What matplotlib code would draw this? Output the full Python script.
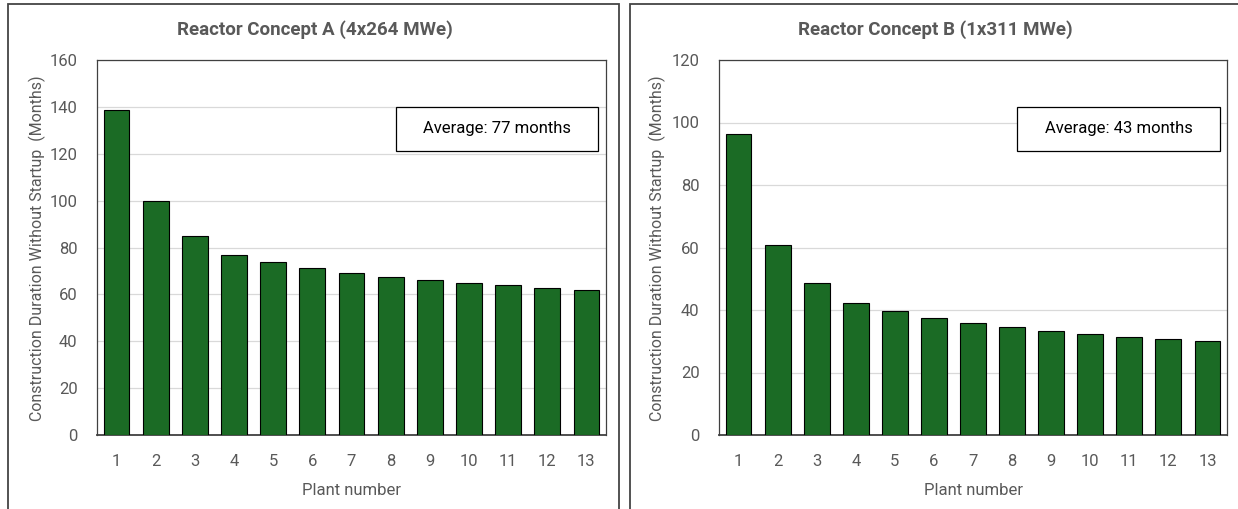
import matplotlib.pyplot as plt
from matplotlib.patches import Rectangle

plt.rcParams['font.family'] = ['Roboto', 'DejaVu Sans']

plants = list(range(1, 14))
concept_a = [138.7, 100.0, 85.1, 76.8, 74.0, 71.4, 69.3, 67.6, 66.1, 65.0, 63.9, 62.9, 61.9]
concept_b = [96.3, 60.8, 48.5, 42.2, 39.6, 37.6, 35.8, 34.5, 33.4, 32.3, 31.3, 30.8, 30.0]
titles = ["Reactor Concept A (4x264 MWe)", "Reactor Concept B (1x311 MWe)"]
averages = ["Average: 77 months", "Average: 43 months"]
y_max = [160, 120]

W, H = 1238, 509
fig = plt.figure(figsize=(W / 100, H / 100), dpi=100)

GREEN = "#1b6b25"
GRAY = "#595959"


def fx(px):
    return px / W


def fy(py):
    return 1 - py / H


# panel frames (Excel chart areas)
for x0, x1 in [(8, 619), (630, 1245)]:
    fig.add_artist(Rectangle((fx(x0), fy(520)), fx(x1 - x0), (520 - 4) / H,
                             transform=fig.transFigure, fill=False,
                             edgecolor="#444444", lw=1.3))

axes_px = [(97, 606), (719, 1227)]
box_px = [(396, 598), (1017, 1220)]
label_x = [37, 657]
title_x = [315, 935]

for i, data in enumerate([concept_a, concept_b]):
    l, r = axes_px[i]
    ax = fig.add_axes([fx(l), fy(435), fx(r - l), (435 - 60) / H])
    ax.bar(plants, data, width=0.66, color=GREEN, edgecolor="black", linewidth=0.8, zorder=3)
    ax.set_xlim(0.5, 13.5)
    ax.set_ylim(0, y_max[i])
    ax.set_xticks(plants)
    ax.set_yticks(range(0, y_max[i] + 1, 20))
    ax.grid(axis="y", color="#d9d9d9", lw=0.9, zorder=0)
    ax.tick_params(length=0, labelsize=12, labelcolor=GRAY)
    ax.tick_params(axis="x", pad=14)
    ax.tick_params(axis="y", pad=14)
    for s in ax.spines.values():
        s.set_color("#404040")
        s.set_linewidth(0.9)
    ax.spines["bottom"].set_linewidth(1.3)
    ax.set_xlabel("Plant number", fontsize=12, color=GRAY, labelpad=10)

    fig.text(fx(label_x[i]), fy(248), "Construction Duration Without Startup  (Months)",
             rotation=90, ha="center", va="center", fontsize=11.5, color=GRAY)
    fig.text(fx(title_x[i]), fy(30), titles[i], ha="center", va="center",
             fontsize=13.5, fontweight="bold", color=GRAY)

    b0, b1 = box_px[i]
    fig.add_artist(Rectangle((fx(b0), fy(151)), fx(b1 - b0), 44 / H,
                             transform=fig.transFigure, facecolor="white",
                             edgecolor="black", lw=0.9, zorder=5))
    fig.text(fx((b0 + b1) / 2), fy(129), averages[i], ha="center", va="center",
             fontsize=12, color="black", zorder=6)

fig.savefig("out.png", dpi=100)
